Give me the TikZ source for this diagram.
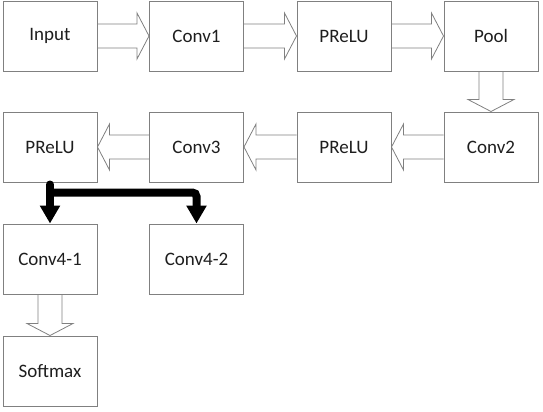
\documentclass[tikz,border=0pt]{standalone}
\usepackage{fontspec}
\setmainfont{Carlito}
\usetikzlibrary{arrows.meta,calc}
\definecolor{edge}{HTML}{808080}
\definecolor{ink}{HTML}{1E1E1E}
\tikzset{fig/.style={x=0.75pt,y=-0.75pt,line join=miter},
  layer/.style={draw=edge,line width=0.75pt,minimum width=70.5pt,minimum height=52.5pt,
    inner sep=0pt,font=\fontsize{14.25}{17}\selectfont,text=ink},
  flow/.style={draw=edge,line width=0.6pt},
  bus/.style={line width=6pt,-{Triangle[length=13.5pt,width=14.5pt]}}}
% hollow block arrow from #1 to the tip #2
\newcommand{\hollow}[2]{%
  \path ($(#2)!9pt!(#1)$) coordinate (hb);
  \draw[flow] ($(#1)!9pt!90:(#2)$)--($(hb)!9pt!90:(#2)$)--($(hb)!17.25pt!90:(#2)$)--(#2)
    --($(hb)!17.25pt!-90:(#2)$)--($(hb)!9pt!-90:(#2)$)--($(#1)!9pt!-90:(#2)$);}

\begin{document}
\begin{tikzpicture}[fig]
  \useasboundingbox (0,0) rectangle (543,411);
  \node[layer] (input) at (50,36) {Input};
  \node[layer] (conva) at (196.5,36) {Conv1};
  \node[layer] (prelua) at (344,36) {PReLU};
  \node[layer] (pool) at (491,36) {Pool};
  \node[layer] (convb) at (491,147) {Conv2};
  \node[layer] (prelub) at (344,147) {PReLU};
  \node[layer] (convc) at (196.5,147) {Conv3};
  \node[layer] (preluc) at (50,147) {PReLU};
  \node[layer] (convda) at (50,259) {Conv4-1};
  \node[layer] (convdb) at (196.5,259) {Conv4-2};
  \node[layer] (softmax) at (50,371) {Softmax};
  \hollow{input.east}{conva.west}
  \hollow{conva.east}{prelua.west}
  \hollow{prelua.east}{pool.west}
  \hollow{pool.south}{convb.north}
  \hollow{convb.west}{prelub.east}
  \hollow{prelub.west}{convc.east}
  \hollow{convc.west}{preluc.east}
  \hollow{convda.south}{softmax.north}
  \draw[bus,line cap=round] ($(preluc.south)+(0,2)$) -- (convda.north);
  \draw[bus,rounded corners=3pt] ($(preluc.south)+(0,10)$) -| (convdb.north);
\end{tikzpicture}
\end{document}
